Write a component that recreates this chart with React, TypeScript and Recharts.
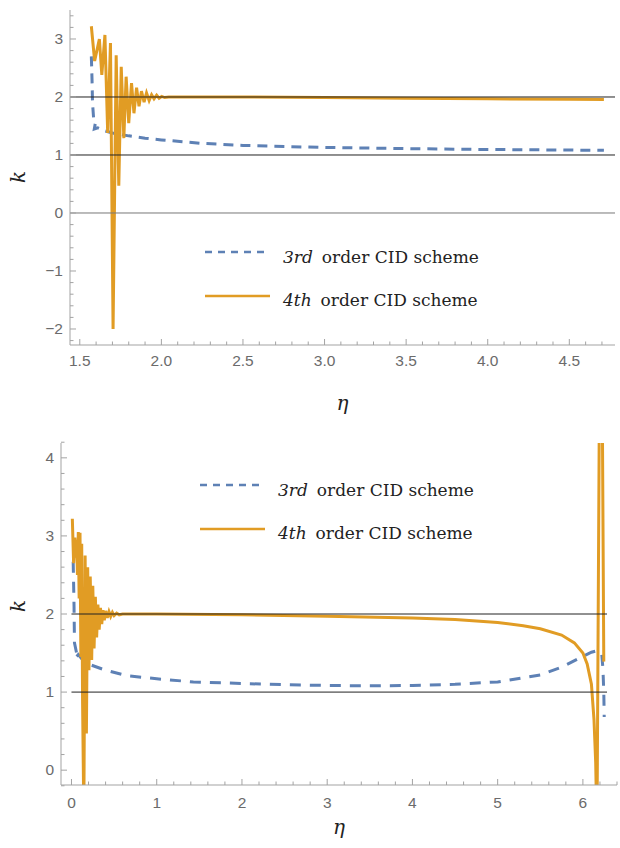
import { LineChart, Line, XAxis, YAxis, ReferenceLine, Legend } from 'recharts';

const BLUE = '#5e81b5';
const ORANGE = '#e19c24';
const FRAME = '#a3a3a3';
const TICK_TEXT = '#6b6b6b';
const SERIF = "'DejaVu Serif', 'Liberation Serif', 'Times New Roman', serif";
const SANS = "'Liberation Sans', 'DejaVu Sans', Arial, sans-serif";

// upper panel, eta from pi/2 to 3pi/2  [eta, k]
const TOP_3RD: [number, number][] = [
  [1.5708, 2.7], [1.575, 2.3], [1.578, 1.9], [1.585, 1.62], [1.596, 1.56], [1.589, 1.45],
  [1.61, 1.47], [1.65, 1.42], [1.7, 1.38], [1.8, 1.33], [1.9, 1.29], [2.0, 1.26],
  [2.25, 1.2], [2.5, 1.165], [3.0, 1.13], [3.5, 1.11], [4.0, 1.095], [4.5, 1.085], [4.712, 1.08],
];

const TOP_4TH: [number, number][] = [
  [1.5708, 3.22], [1.591, 2.62], [1.62, 3.0], [1.635, 2.38], [1.654, 3.07], [1.671, 1.38],
  [1.688, 2.93], [1.704, -2.0], [1.723, 2.72], [1.739, 0.47], [1.754, 2.52], [1.77, 1.29],
  [1.784, 2.35], [1.8, 1.55], [1.817, 2.24], [1.832, 1.72], [1.848, 2.16], [1.863, 1.84],
  [1.878, 2.1], [1.894, 1.91], [1.909, 2.07], [1.925, 1.94], [1.94, 2.04], [1.955, 1.97],
  [1.971, 2.03], [1.986, 1.98], [2.002, 2.01], [2.02, 1.99], [2.045, 2.0], [2.5, 2.0],
  [3.0, 1.99], [3.5, 1.98], [4.0, 1.97], [4.5, 1.96], [4.712, 1.955],
];

// lower panel, eta from 0 to 2pi
const BOTTOM_3RD: [number, number][] = [
  [0.02, 2.67], [0.03, 2.1], [0.035, 1.63], [0.06, 1.5], [0.04, 1.43], [0.08, 1.48],
  [0.14, 1.4], [0.22, 1.35], [0.4, 1.28], [0.65, 1.21], [1.0, 1.17], [1.43, 1.13],
  [2.0, 1.11], [2.5, 1.095], [3.0, 1.085], [3.5, 1.08], [4.0, 1.085], [4.5, 1.1],
  [5.0, 1.13], [5.5, 1.22], [5.75, 1.32], [5.95, 1.43], [6.1, 1.51], [6.17, 1.53],
  [6.22, 1.5], [6.235, 1.3], [6.245, 1.0], [6.25, 0.68],
];

const BOTTOM_4TH: [number, number][] = [
  [0.01, 3.22], [0.025, 2.65], [0.04, 2.98], [0.05, 2.72], [0.06, 2.95], [0.07, 2.5],
  [0.08, 3.05], [0.09, 2.2], [0.1, 3.04], [0.11, 1.45], [0.12, 2.9], [0.13, 0.9],
  [0.145, -0.6], [0.16, 2.75], [0.175, 0.47], [0.19, 2.6], [0.205, 1.28], [0.22, 2.48],
  [0.237, 1.41], [0.25, 2.36], [0.265, 1.56], [0.28, 2.22], [0.295, 1.7], [0.31, 2.12],
  [0.325, 1.8], [0.34, 2.08], [0.355, 1.87], [0.37, 2.05], [0.385, 1.92], [0.4, 2.04],
  [0.42, 1.95], [0.44, 2.03], [0.46, 1.97], [0.48, 2.02], [0.5, 1.98], [0.53, 2.01],
  [0.56, 1.99], [0.6, 2.0], [1.0, 2.0], [2.0, 1.99], [3.0, 1.97], [4.0, 1.95],
  [4.5, 1.93], [5.0, 1.89], [5.3, 1.85], [5.5, 1.81], [5.75, 1.73], [5.9, 1.63],
  [6.0, 1.5], [6.05, 1.36], [6.1, 1.1], [6.13, 0.65], [6.15, 0.1], [6.165, -0.8],
  [6.2, 6.0], [6.215, 7.0], [6.245, 1.39],
];

const TOP_X_MAJOR = [1.5, 2, 2.5, 3, 3.5, 4, 4.5];
const TOP_Y_MAJOR = [-2, -1, 0, 1, 2, 3];
const BOTTOM_X_MAJOR = [0, 1, 2, 3, 4, 5, 6];
const BOTTOM_Y_MAJOR = [0, 1, 2, 3, 4];

const TOP_X_DOMAIN = [1.44, 4.78];
const TOP_Y_DOMAIN = [-2.276, 3.5];
const BOTTOM_X_DOMAIN = [-0.123, 6.4];
const BOTTOM_Y_DOMAIN = [-0.19, 4.19];

const steps = (from: number, to: number, step: number) => {
  const out: number[] = [];
  for (let v = from; v <= to + 1e-9; v += step) out.push(Math.round(v * 1000) / 1000);
  return out;
};

const TOP_X_TICKS = steps(1.5, 4.7, 0.1);
const TOP_Y_TICKS = steps(-2.2, 3.4, 0.2);
const BOTTOM_X_TICKS = steps(0, 6.4, 0.2);
const BOTTOM_Y_TICKS = steps(-0.2, 4.2, 0.2);

const toRows = (pts: [number, number][]) => pts.map(([eta, k]) => ({ eta, k }));

const fmtNum = (v: number) => (v < 0 ? '\u2212' + Math.abs(v) : String(v));

const serifStyle = { fontFamily: SERIF };

type Side = 'bottom' | 'top' | 'left' | 'right';

function frameTick(side: Side, majors: number[], fmt?: (v: number) => string, labelGap = 17) {
  return (props: any) => {
    const { x, y, payload } = props;
    const v = payload.value;
    const major = majors.some((m) => Math.abs(m - v) < 1e-6);
    const len = major ? 6 : 3.5;
    let x2 = x;
    let y2 = y;
    if (side === 'bottom') y2 = y - len;
    if (side === 'top') y2 = y + len;
    if (side === 'left') x2 = x + len;
    if (side === 'right') x2 = x - len;
    return (
      <g>
        <line x1={x} y1={y} x2={x2} y2={y2} stroke={FRAME} strokeWidth={1} />
        {major && fmt && side === 'bottom' && (
          <text x={x} y={y + labelGap + 5} textAnchor="middle" fontSize={15.5} fontFamily={SANS} fill={TICK_TEXT}>
            {fmt(v)}
          </text>
        )}
        {major && fmt && side === 'left' && (
          <text x={x - 7} y={y + 5} textAnchor="end" fontSize={15.5} fontFamily={SANS} fill={TICK_TEXT}>
            {fmt(v)}
          </text>
        )}
      </g>
    );
  };
}

const etaLabel = (baseline: number) => (props: any) => {
  const vb = props.viewBox || {};
  return (
    <text x={vb.x + vb.width / 2} y={baseline} textAnchor="middle" fontSize={20} fontStyle="italic" style={serifStyle} fill="#222">
      η
    </text>
  );
};

const kLabel = (cx: number, cy: number) => () => (
  <text x={cx} y={cy} textAnchor="middle" fontSize={20} fontStyle="italic" style={serifStyle} fill="#222" transform={`rotate(-90, ${cx}, ${cy})`}>
    k
  </text>
);

function SchemeLegend() {
  return (
    <svg width={300} height={80} style={{ display: 'block' }}>
      <line x1={15} y1={17} x2={77} y2={17} stroke={BLUE} strokeWidth={2.5} strokeDasharray="7 6" />
      <text x={93} y={28} fontSize={17} style={serifStyle} fill="#222">
        <tspan fontStyle="italic">3rd</tspan>
        <tspan dx={9}>order CID scheme</tspan>
      </text>
      <line x1={15} y1={61} x2={80} y2={61} stroke={ORANGE} strokeWidth={2.5} />
      <text x={93} y={71} fontSize={17} style={serifStyle} fill="#222">
        <tspan fontStyle="italic">4th</tspan>
        <tspan dx={9}>order CID scheme</tspan>
      </text>
    </svg>
  );
}

export default function App() {
  return (
    <div style={{ position: 'absolute', left: 0, top: 0, width: 620, height: 848, background: '#fff' }}>
      <div style={{ position: 'absolute', left: 0, top: 0 }}>
        <LineChart width={620} height={420} margin={{ top: 10, right: 5, bottom: 0, left: 0 }}>
          <XAxis
            dataKey="eta"
            type="number"
            domain={TOP_X_DOMAIN}
            allowDataOverflow
            ticks={TOP_X_TICKS}
            interval={0}
            height={75}
            tickSize={0}
            tickMargin={0}
            axisLine={{ stroke: FRAME }}
            tickLine={false}
            tick={frameTick('bottom', TOP_X_MAJOR, (v) => v.toFixed(1), 16)}
            label={etaLabel(410)}
          />
          <XAxis
            xAxisId="top"
            orientation="top"
            dataKey="eta"
            type="number"
            domain={TOP_X_DOMAIN}
            allowDataOverflow
            ticks={TOP_X_TICKS}
            interval={0}
            height={0}
            tickSize={0}
            tickMargin={0}
            axisLine={{ stroke: FRAME }}
            tickLine={false}
            tick={frameTick('top', TOP_X_MAJOR)}
          />
          <YAxis
            type="number"
            domain={TOP_Y_DOMAIN}
            allowDataOverflow
            ticks={TOP_Y_TICKS}
            interval={0}
            width={70}
            tickSize={0}
            tickMargin={0}
            axisLine={{ stroke: FRAME }}
            tickLine={false}
            tick={frameTick('left', TOP_Y_MAJOR, fmtNum)}
            label={kLabel(25, 177)}
          />
          <YAxis
            yAxisId="right"
            orientation="right"
            type="number"
            domain={TOP_Y_DOMAIN}
            allowDataOverflow
            ticks={TOP_Y_TICKS}
            interval={0}
            width={0}
            tickSize={0}
            tickMargin={0}
            axisLine={{ stroke: FRAME }}
            tickLine={false}
            tick={frameTick('right', TOP_Y_MAJOR)}
          />
          <Line data={toRows(TOP_3RD)} dataKey="k" type="linear" stroke={BLUE} strokeWidth={3} strokeDasharray="10 7" dot={false} isAnimationActive={false} />
          <Line data={toRows(TOP_4TH)} dataKey="k" type="linear" stroke={ORANGE} strokeWidth={3} dot={false} isAnimationActive={false} />
          <ReferenceLine y={0} stroke="#777" strokeWidth={1} />
          <ReferenceLine y={1} stroke="#222" strokeWidth={1} />
          <ReferenceLine y={2} stroke="#222" strokeWidth={1} />
          <Legend
            verticalAlign="middle"
            align="center"
            layout="horizontal"
            content={() => <SchemeLegend />}
            wrapperStyle={{ left: 190, top: 235, width: 300, height: 80 }}
          />
        </LineChart>
      </div>

      <div style={{ position: 'absolute', left: 0, top: 420 }}>
        <LineChart width={620} height={428} margin={{ top: 23, right: 3, bottom: 0, left: 0 }}>
          <XAxis
            dataKey="eta"
            type="number"
            domain={BOTTOM_X_DOMAIN}
            allowDataOverflow
            ticks={BOTTOM_X_TICKS}
            interval={0}
            height={63}
            tickSize={0}
            tickMargin={0}
            axisLine={{ stroke: FRAME }}
            tickLine={false}
            tick={frameTick('bottom', BOTTOM_X_MAJOR, (v) => String(v), 18)}
            label={etaLabel(414)}
          />
          <XAxis
            xAxisId="top"
            orientation="top"
            dataKey="eta"
            type="number"
            domain={BOTTOM_X_DOMAIN}
            allowDataOverflow
            ticks={BOTTOM_X_TICKS}
            interval={0}
            height={0}
            tickSize={0}
            tickMargin={0}
            axisLine={{ stroke: FRAME }}
            tickLine={false}
            tick={frameTick('top', BOTTOM_X_MAJOR)}
          />
          <YAxis
            type="number"
            domain={BOTTOM_Y_DOMAIN}
            allowDataOverflow
            ticks={BOTTOM_Y_TICKS}
            interval={0}
            width={61}
            tickSize={0}
            tickMargin={0}
            axisLine={{ stroke: FRAME }}
            tickLine={false}
            tick={frameTick('left', BOTTOM_Y_MAJOR, fmtNum)}
            label={kLabel(25, 186)}
          />
          <YAxis
            yAxisId="right"
            orientation="right"
            type="number"
            domain={BOTTOM_Y_DOMAIN}
            allowDataOverflow
            ticks={BOTTOM_Y_TICKS}
            interval={0}
            width={0}
            tickSize={0}
            tickMargin={0}
            axisLine={{ stroke: FRAME }}
            tickLine={false}
            tick={frameTick('right', BOTTOM_Y_MAJOR)}
          />
          <Line data={toRows(BOTTOM_3RD)} dataKey="k" type="linear" stroke={BLUE} strokeWidth={3} strokeDasharray="11 9" dot={false} isAnimationActive={false} />
          <Line data={toRows(BOTTOM_4TH)} dataKey="k" type="linear" stroke={ORANGE} strokeWidth={3} dot={false} isAnimationActive={false} />
          <ReferenceLine segment={[{ x: 0, y: 1 }, { x: 6.283, y: 1 }]} stroke="#222" strokeWidth={1} />
          <ReferenceLine segment={[{ x: 0, y: 2 }, { x: 6.283, y: 2 }]} stroke="#222" strokeWidth={1} />
          <Legend
            verticalAlign="middle"
            align="center"
            layout="horizontal"
            content={() => <SchemeLegend />}
            wrapperStyle={{ left: 185, top: 48, width: 300, height: 80 }}
          />
        </LineChart>
      </div>
    </div>
  );
}
